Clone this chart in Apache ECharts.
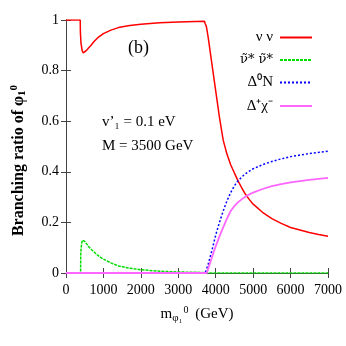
<!DOCTYPE html>
<html>
<head>
<meta charset="utf-8">
<script src="https://cdn.jsdelivr.net/npm/echarts@6/dist/echarts.min.js"></script>
<style>
  html, body { margin: 0; padding: 0; background: #fff; }
  #chart { width: 346px; height: 346px; }
</style>
</head>
<body>
<div id="chart"></div>
<script>
// values
const xTicks = ['0', '1000', '2000', '3000', '4000', '5000', '6000', '7000'];
const yTicks = ['0', '0.2', '0.4', '0.6', '0.8', '1'];

const redX = [0, 380, 385, 400, 430, 460, 500, 550, 600, 670, 750, 850, 1000, 1200, 1400, 1700, 2000, 2500, 3000, 3700, 3720, 3750, 3800, 3900, 4000, 4100, 4200, 4300, 4400, 4500, 4600, 4700, 4800, 4900, 5000, 5250, 5500, 5750, 6000, 6250, 6500, 6750, 7000];
const redY = [1, 1, 0.95, 0.91, 0.88, 0.87, 0.872, 0.88, 0.889, 0.90, 0.915, 0.93, 0.946, 0.96, 0.97, 0.978, 0.983, 0.989, 0.992, 0.995, 0.985, 0.975, 0.93, 0.825, 0.72, 0.615, 0.525, 0.47, 0.428, 0.395, 0.363, 0.335, 0.31, 0.29, 0.272, 0.24, 0.215, 0.196, 0.18, 0.17, 0.16, 0.152, 0.145];

const greenX = [0, 390, 395, 420, 445, 500, 550, 620, 700, 800, 900, 1000, 1200, 1400, 1700, 2000, 2500, 3000, 3700, 3800, 7000];
const greenY = [0, 0, 0.08, 0.12, 0.13, 0.125, 0.115, 0.102, 0.09, 0.076, 0.064, 0.055, 0.04, 0.028, 0.019, 0.013, 0.007, 0.004, 0.002, 0, 0];

const blueX = [0, 3720, 3800, 3900, 4000, 4100, 4200, 4300, 4400, 4500, 4600, 4700, 4800, 4900, 5000, 5250, 5500, 5750, 6000, 6500, 7000];
const blueY = [0, 0, 0.035, 0.09, 0.15, 0.2, 0.245, 0.285, 0.318, 0.345, 0.365, 0.38, 0.393, 0.403, 0.412, 0.428, 0.441, 0.451, 0.46, 0.472, 0.481];

const pinkX = [0, 3760, 3850, 3950, 4000, 4100, 4200, 4300, 4400, 4500, 4600, 4700, 4800, 4900, 5000, 5250, 5500, 5750, 6000, 6500, 7000];
const pinkY = [0, 0, 0.04, 0.085, 0.105, 0.145, 0.18, 0.215, 0.245, 0.265, 0.28, 0.292, 0.302, 0.311, 0.318, 0.332, 0.343, 0.351, 0.358, 0.368, 0.376];

const names = ['ν ν', 'ν̃* ν̃*', 'Δ⁰N', 'Δ⁺χ⁻'];

const pairs = (xs, ys) => xs.map((x, i) => [x, ys[i]]);

const font = 'Liberation Serif';
const frame = '#444';

const myChart = echarts.init(document.getElementById('chart'));

const tickAxis = {
  axisLine: { show: true, lineStyle: { color: frame, width: 1 } },
  axisTick: { show: true, inside: true, length: 5, lineStyle: { color: frame } },
  splitLine: { show: false }
};

const lineSeries = (i, xs, ys, color, width, dash) => ({
  name: names[i], type: 'line', symbol: 'none',
  data: pairs(xs, ys), color: color,
  lineStyle: { color: color, width: width, type: dash }
});

let option = {
  animation: false,
  backgroundColor: '#fff',
  grid: { left: 66, right: 18, top: 20, bottom: 73 },
  legend: {
    orient: 'vertical',
    right: 28,
    top: 25,
    align: 'right',
    itemWidth: 32,
    itemHeight: 14,
    itemGap: 8.5,
    itemStyle: { opacity: 0 },
    data: [
      { name: names[0] },
      { name: names[1], textStyle: { fontFamily: 'DejaVu Serif', fontSize: 13 } },
      { name: names[2] },
      { name: names[3] }
    ],
    textStyle: { fontFamily: font, fontSize: 15, color: '#000', padding: [0, 2, 0, 0] }
  },
  graphic: [
    { type: 'text', left: 128, top: 39, style: { text: '(b)', font: '18px "Liberation Serif"', fill: '#000' } },
    { type: 'text', left: 102, top: 115, style: { text: 'v’₁ = 0.1 eV', font: '15px "Liberation Serif"', fill: '#000' } },
    { type: 'text', left: 102, top: 139, style: { text: 'M = 3500 GeV', font: '15px "Liberation Serif"', fill: '#000' } }
  ],
  xAxis: [
    Object.assign({
      type: 'value', min: 0, max: 7000, interval: 1000,
      name: 'm{sub|φ₁}{sup|0} (GeV)',
      nameLocation: 'middle',
      nameGap: 32,
      nameTextStyle: {
        fontFamily: font, fontSize: 15, color: '#000',
        rich: {
          sub: { fontFamily: font, fontSize: 11, verticalAlign: 'bottom', padding: [8, 0, 0, 0] },
          sup: { fontFamily: font, fontSize: 10, verticalAlign: 'top', padding: [0, 3, 0, 1] }
        }
      },
      axisLabel: { fontFamily: font, fontSize: 14, color: '#000', margin: 10,
        formatter: v => xTicks[Math.round(v / 1000)] }
    }, tickAxis),
    Object.assign({
      type: 'value', min: 0, max: 7000, interval: 1000, position: 'top',
      axisLabel: { show: false }
    }, tickAxis)
  ],
  yAxis: [
    Object.assign({
      type: 'value', min: 0, max: 1, interval: 0.2,
      name: 'Branching ratio of φ{sub|1}{sup|0}',
      nameLocation: 'middle',
      nameGap: 38,
      nameTextStyle: {
        fontFamily: font, fontSize: 16, fontWeight: 'bold', color: '#000',
        padding: [0, 28, 0, 0],
        rich: {
          sub: { fontFamily: font, fontSize: 11, fontWeight: 'bold', verticalAlign: 'bottom', padding: [8, 0, 0, 0] },
          sup: { fontFamily: font, fontSize: 11, fontWeight: 'bold', verticalAlign: 'top', padding: [0, 0, 8, 0] }
        }
      },
      axisLabel: { fontFamily: font, fontSize: 14, color: '#000', margin: 7,
        formatter: v => yTicks[Math.round(v / 0.2)] }
    }, tickAxis),
    Object.assign({
      type: 'value', min: 0, max: 1, interval: 0.2, position: 'right',
      axisLabel: { show: false }
    }, tickAxis)
  ],
  series: [
    lineSeries(0, redX, redY, '#ff0000', 1.5, 'solid'),
    lineSeries(1, greenX, greenY, '#00dd00', 1.5, [3, 1]),
    lineSeries(2, blueX, blueY, '#0000ff', 1.5, [2, 2]),
    lineSeries(3, pinkX, pinkY, '#ff66ff', 1.8, 'solid')
  ]
};

myChart.setOption(option);
</script>
</body>
</html>
